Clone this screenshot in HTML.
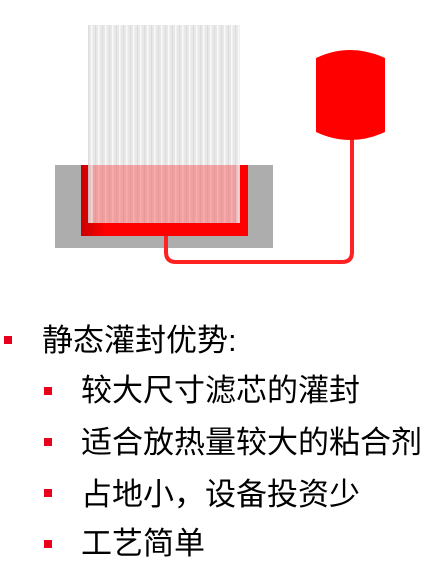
<!DOCTYPE html>
<html><head><meta charset="utf-8"><style>
body{margin:0;width:445px;height:583px;background:#fff;position:relative;overflow:hidden;font-family:"Liberation Sans","Noto Sans CJK SC",sans-serif;}
.t{position:absolute;font-size:31px;line-height:32px;color:#000;white-space:nowrap;}
.b{position:absolute;width:8px;height:8px;background:#e8001c;}
</style></head><body>
<svg width="445" height="300" style="position:absolute;left:0;top:0">
<defs>
<pattern id="lines" width="7" height="10" patternUnits="userSpaceOnUse">
<rect width="7" height="10" fill="#e4e4e4"/><rect x="0" width="1.5" height="10" fill="#f8f8f8"/><rect x="4" width="1" height="10" fill="#d6d6d6"/>
</pattern>
<linearGradient id="red" x1="0" x2="1"><stop offset="0" stop-color="#c80000"/><stop offset="0.15" stop-color="#f00"/><stop offset="1" stop-color="#f00"/></linearGradient>
</defs>
<rect x="55" y="165" width="218" height="83" fill="#adadad"/>
<rect x="81" y="165" width="167" height="71" fill="url(#red)"/>
<rect x="93" y="165" width="143" height="58" fill="#f5a0a0"/>
<rect x="88" y="25" width="152" height="198" fill="url(#lines)" opacity="0.85"/>
<rect x="93" y="165" width="143" height="58" fill="#f33" opacity="0.35"/>
<path d="M166 236 V252 Q166 262 176 262 H342 Q352 262 352 252 V138" fill="none" stroke="#f22" stroke-width="4"/>
<path d="M316 58 Q350 42 385 58 V132 Q350 148 316 132 Z" fill="#f00"/>
</svg>
<div class="b" style="left:4px;top:336px"></div>
<div class="t" style="left:42px;top:325px">静态灌封优势:</div>
<div class="b" style="left:44px;top:387px"></div>
<div class="t" style="left:81px;top:375px">较大尺寸滤芯的灌封</div>
<div class="b" style="left:44px;top:438px"></div>
<div class="t" style="left:81px;top:427px">适合放热量较大的粘合剂</div>
<div class="b" style="left:44px;top:489px"></div>
<div class="t" style="left:81px;top:479px">占地小，设备投资少</div>
<div class="b" style="left:44px;top:540px"></div>
<div class="t" style="left:81px;top:528px">工艺简单</div>
</body></html>
